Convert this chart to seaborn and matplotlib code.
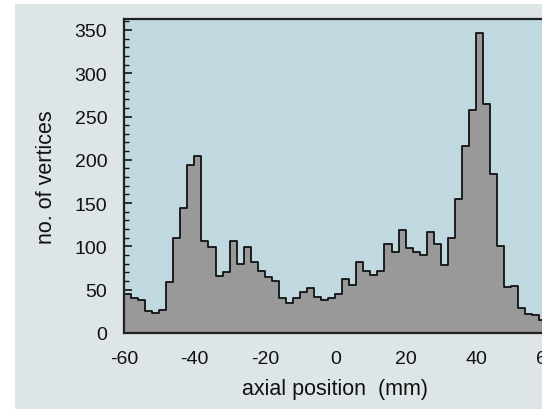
import numpy as np
import pandas as pd
import matplotlib
matplotlib.use("Agg")
import matplotlib.pyplot as plt
from matplotlib.patches import Rectangle
from matplotlib.ticker import MultipleLocator
import seaborn as sns

# Histogram of reconstructed vertex positions along the beam axis (2 mm bins)
bin_low_edges = [-60, -58, -56, -54, -52, -50, -48, -46, -44, -42,
                 -40, -38, -36, -34, -32, -30, -28, -26, -24, -22,
                 -20, -18, -16, -14, -12, -10, -8, -6, -4, -2,
                 0, 2, 4, 6, 8, 10, 12, 14, 16, 18,
                 20, 22, 24, 26, 28, 30, 32, 34, 36, 38,
                 40, 42, 44, 46, 48, 50, 52, 54, 56, 58]
vertex_counts = [45, 40, 38, 25, 23, 27, 59, 110, 144, 194,
                 204, 106, 99, 66, 70, 106, 80, 99, 82, 72,
                 65, 60, 40, 35, 40, 47, 52, 41, 38, 40,
                 45, 62, 55, 82, 72, 67, 72, 103, 94, 119,
                 98, 94, 90, 117, 103, 79, 110, 155, 216, 258,
                 346, 264, 184, 100, 53, 54, 29, 22, 21, 15]
bin_width = 2
x_ticks = [-60, -40, -20, 0, 20, 40, 60]
y_ticks = [0, 50, 100, 150, 200, 250, 300, 350]

edges = list(bin_low_edges) + [bin_low_edges[-1] + bin_width]
centers = [e + bin_width / 2 for e in bin_low_edges]
df = pd.DataFrame({"position": centers, "count": vertex_counts})

sns.set_theme(style="ticks")
plt.rcParams["font.family"] = ["Liberation Sans", "DejaVu Sans"]
plt.rcParams["axes.unicode_minus"] = False

fig = plt.figure(figsize=(5.42, 4.10), dpi=100, facecolor="white")
# light panel behind the plot, leaving a thin white strip on the left and top
fig.patches.append(Rectangle((15 / 542, 0), 1 - 15 / 542, 405 / 410,
                             transform=fig.transFigure, facecolor="#dde5e7",
                             edgecolor="none", zorder=-5))

ax = fig.add_axes([124 / 542, 76 / 410, 422.4 / 542, 314 / 410])
ax.set_zorder(2)
ax.set_facecolor("#c0d9e0")

sns.histplot(data=df, x="position", weights="count", bins=edges,
             element="step", fill=True, color="#999999", alpha=1.0,
             edgecolor="#111111", linewidth=1.3, ax=ax)

ax.set_xlim(-60, 60)
ax.set_ylim(0, 362.6)
ax.set_xticks(x_ticks)
ax.set_yticks(y_ticks)
ax.xaxis.set_minor_locator(MultipleLocator(5))
ax.yaxis.set_minor_locator(MultipleLocator(10))
ax.tick_params(which="both", direction="in", top=False, right=False,
               colors="#111111", labelcolor="#111111")
ax.tick_params(which="major", length=6, width=1.2, labelsize=14, pad=12)
ax.tick_params(which="minor", length=3.5, width=1.0)

for side in ("left", "bottom", "top"):
    ax.spines[side].set_color("#222222")
    ax.spines[side].set_linewidth(1.6)
ax.spines["right"].set_visible(False)

ax.set_xlabel("axial position  (mm)", fontsize=15.5, color="#111111", labelpad=8)
ax.set_ylabel("no. of vertices", fontsize=15.5, color="#111111", labelpad=13)

fig.savefig("out.png", dpi=100, facecolor=fig.get_facecolor())
